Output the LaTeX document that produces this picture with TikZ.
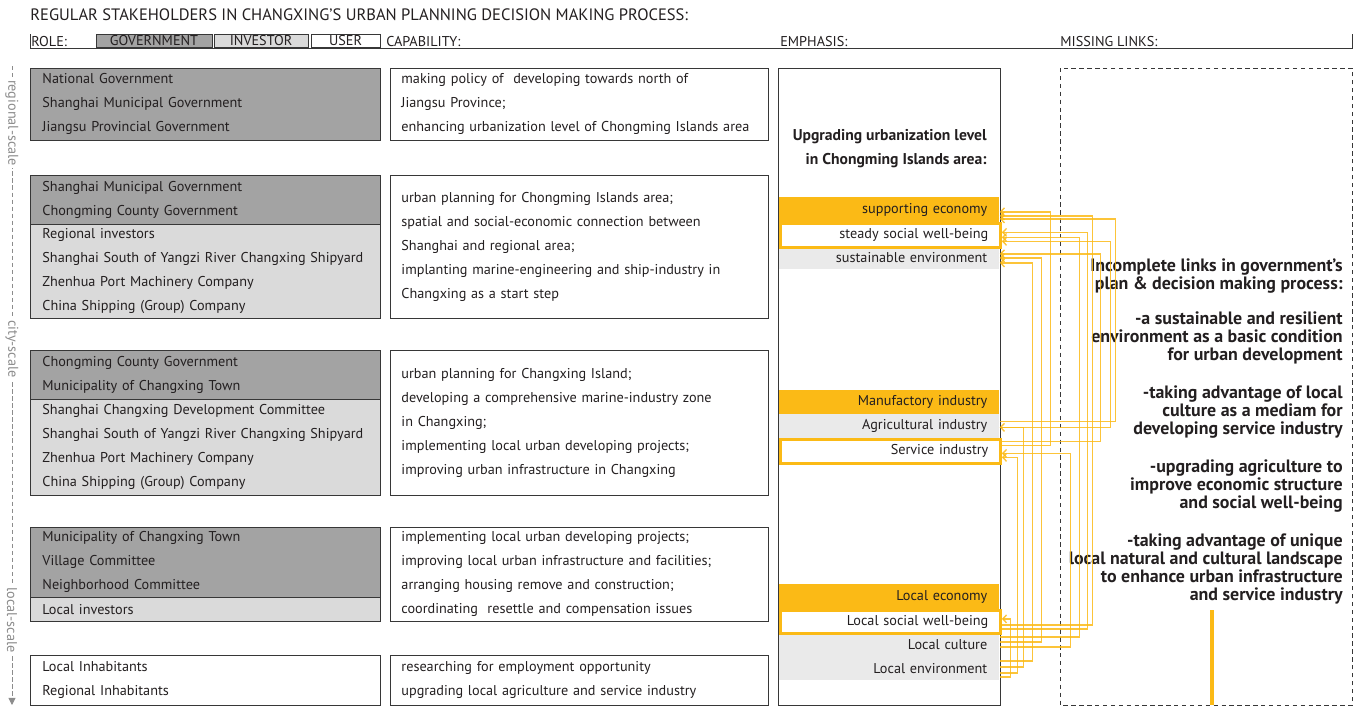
\documentclass[tikz,border=0pt]{standalone}
\usepackage{fontspec}
\setmainfont{PT Sans}
\usetikzlibrary{arrows.meta,calc}

\definecolor{govgray}{RGB}{163,163,163}
\definecolor{invgray}{RGB}{218,218,218}
\definecolor{itemgray}{RGB}{234,234,234}
\definecolor{boxline}{RGB}{55,55,55}
\definecolor{ink}{RGB}{35,31,32}
\definecolor{amber}{RGB}{251,186,22}
\definecolor{scalegray}{RGB}{140,140,140}

\newcommand\rowfont{\fontsize{8.1}{13.66}\selectfont}
\newcommand\notefont{\fontsize{10.2}{10.24}\selectfont\bfseries}

\tikzset{
  role/.style={draw=boxline, line width=0.5pt, anchor=north west, inner xsep=0.24cm, inner ysep=0pt,
    minimum width=7cm, text width=6.52cm, align=left, font=\rowfont, text=ink},
  govbox/.style={role, fill=govgray},
  invbox/.style={role, fill=invgray},
  userbox/.style={role, fill=white},
  capbox/.style={draw=boxline, line width=0.5pt, anchor=north west, inner xsep=0.22cm, inner ysep=0pt,
    minimum width=7.56cm, text width=7.12cm, align=left, font=\rowfont, text=ink},
  item/.style={anchor=north west, inner xsep=0.24cm, inner ysep=0pt, minimum width=4.4cm,
    text width=3.92cm, align=right, font=\rowfont, text=ink},
  goal/.style={item, fill=amber},
  aim/.style={item, fill=white, draw=amber, line width=0.055cm},
  gap/.style={item, fill=itemgray},
  legend/.style={draw=boxline, line width=0.5pt, inner sep=0pt, minimum height=0.27cm, font=\rowfont, text=ink},
  heading/.style={anchor=west, inner sep=0pt, font=\rowfont, text=ink},
  scalelabel/.style={rotate=-90, fill=white, inner xsep=1pt, inner ysep=0pt, font=\rowfont, text=scalegray},
  note/.style={anchor=east, align=right, inner sep=0pt, font=\notefont, text=ink},
  link/.style={amber, line width=0.8pt, opacity=0.85, -{Straight Barb[length=2.2pt, width=4.5pt]}}
}

\begin{document}
\begin{tikzpicture}[x=0.02cm, y=-0.02cm]
\useasboundingbox (0,0) rectangle (1360,707);

% header
\node[heading, font=\fontsize{9.4}{11}\selectfont] (title) at (30,15)
  {REGULAR STAKEHOLDERS IN CHANGXING’S URBAN PLANNING DECISION MAKING PROCESS:};
\draw[boxline, line width=0.5pt] (30,34) -- (30,48) -- (1352,48) -- (1352,34);
\node[heading] (role) at (31,41.5) {ROLE:};
\node[legend, fill=govgray, minimum width=2.32cm] (gov) at (154,41) {GOVERNMENT};
\node[legend, fill=invgray, minimum width=1.88cm] (inv) at (261,41) {INVESTOR};
\node[legend, fill=white, minimum width=1.38cm] (usr) at (345.5,41) {USER};
\node[heading] (capab) at (386,41.5) {CAPABILITY:};
\node[heading] (emph) at (780,41.5) {EMPHASIS:};
\node[heading] (miss) at (1060,41.5) {MISSING LINKS:};

% scale axis
\draw[scalegray, line width=0.5pt, dash pattern=on 2.5pt off 1.5pt, -{Triangle[length=4pt, width=4pt]}]
  (12,66) -- (12,705);
\node[scalelabel] (regional) at (12,123) {regional-scale};
\node[scalelabel] (city) at (12,349) {city-scale};
\node[scalelabel] (local) at (12,620) {local-scale};

% stakeholders
\node[govbox, minimum height=1.44cm] (g1) at (30,68)
  {National Government\\Shanghai Municipal Government\\Jiangsu Provincial Government};
\node[govbox, minimum height=0.98cm] (g2a) at (30,175)
  {Shanghai Municipal Government\\Chongming County Government};
\node[invbox, minimum height=1.88cm] (g2b) at (30,224)
  {Regional investors\\Shanghai South of Yangzi River Changxing Shipyard\\Zhenhua Port Machinery Company\\China Shipping (Group) Company};
\node[govbox, minimum height=0.98cm] (g3a) at (30,350)
  {Chongming County Government\\Municipality of Changxing Town};
\node[invbox, minimum height=1.92cm] (g3b) at (30,399)
  {Shanghai Changxing Development Committee\\Shanghai South of Yangzi River Changxing Shipyard\\Zhenhua Port Machinery Company\\China Shipping (Group) Company};
\node[govbox, minimum height=1.4cm] (g4a) at (30,527)
  {Municipality of Changxing Town\\Village Committee\\Neighborhood Committee};
\node[invbox, minimum height=0.48cm] (g4b) at (30,597) {Local investors};
\node[userbox, minimum height=1cm] (g5) at (30,655)
  {Local Inhabitants\\Regional Inhabitants};

% capabilities
\node[capbox, minimum height=1.44cm] (c1) at (390,68)
  {making policy of\ \ developing towards north of\\Jiangsu Province;\\enhancing urbanization level of Chongming Islands area};
\node[capbox, minimum height=2.86cm] (c2) at (390,175)
  {urban planning for Chongming Islands area;\\spatial and social-economic connection between\\Shanghai and regional area;\\implanting marine-engineering and ship-industry in\\Changxing as a start step};
\node[capbox, minimum height=2.9cm] (c3) at (390,350)
  {urban planning for Changxing Island;\\developing a comprehensive marine-industry zone\\in Changxing;\\implementing local urban developing projects;\\improving urban infrastructure in Changxing};
\node[capbox, minimum height=1.88cm] (c4) at (390,527)
  {implementing local urban developing projects;\\improving local urban infrastructure and facilities;\\arranging housing remove and construction;\\coordinating\ \ resettle and compensation issues};
\node[capbox, minimum height=1cm] (c5) at (390,655)
  {researching for employment opportunity\\upgrading local agriculture and service industry};

% emphasis
\draw[boxline, line width=0.5pt] (778,68) rectangle (1000,705);
\node[note, font=\fontsize{8.9}{13.66}\selectfont\bfseries] (upgrade) at (987,149)
  {Upgrading urbanization level\\in Chongming Islands area:};
\node[goal, minimum height=0.5cm] (econ) at (779,197) {supporting economy};
\node[gap, minimum height=0.46cm] (envir) at (779,246) {sustainable environment};
\node[aim, minimum height=0.48cm] (social) at (779,222) {steady social well-being};
\node[goal, minimum height=0.48cm] (manuf) at (779,390) {Manufactory industry};
\node[gap, minimum height=0.48cm] (agri) at (779,414) {Agricultural industry};
\node[aim, minimum height=0.48cm] (serv) at (779,438) {Service industry};
\node[goal, minimum height=0.5cm] (leco) at (779,584) {Local economy};
\node[gap, minimum height=0.5cm] (lcul) at (779,632) {Local culture};
\node[gap, minimum height=0.46cm] (lenv) at (779,657) {Local environment};
\node[aim, minimum height=0.46cm] (lsoc) at (779,609) {Local social well-being};

% missing links
\draw[boxline, line width=0.5pt, dash pattern=on 2.5pt off 2pt] (1060,68) rectangle (1352,705);
\node[note] (note1) at (1343,276) {Incomplete links in government’s\\plan \& decision making process:};
\node[note] (note2) at (1343,338) {-a sustainable and resilient\\environment as a basic condition\\for urban development};
\node[note] (note3) at (1343,412) {-taking advantage of local\\culture as a mediam for\\developing service industry};
\node[note] (note4) at (1343,486) {-upgrading agriculture to\\improve economic structure\\and social well-being};
\node[note] (note5) at (1343,569) {-taking advantage of unique\\local natural and cultural landscape\\to enhance urban infrastructure\\and service industry};
\draw[amber, line width=1.8pt] (1212,610) -- (1212,705);

% links between emphases
\foreach \src/\sdy/\dst/\ddy/\col in {
  lsoc/3/econ/6/1092, lsoc/7/social/-3/1085, lcul/-8/social/2/1077,
  lcul/-3/envir/0/1041, lenv/-8/envir/5/1032,
  agri/-5/econ/9/1115, agri/1/social/6/1108, serv/-10/envir/-4/1100,
  serv/-6/econ/2/1050,
  lcul/2/serv/2/1068, lenv/-2/agri/1/1023, lenv/4/serv/6/1015,
  lenv/8/lsoc/-3/1008}
  \draw[link] ($(\src.east)+(0,\sdy)$) -| ($(\dst.east)+(\col-999,\ddy)$) -- ($(\dst.east)+(0,\ddy)$);
\end{tikzpicture}
\end{document}
